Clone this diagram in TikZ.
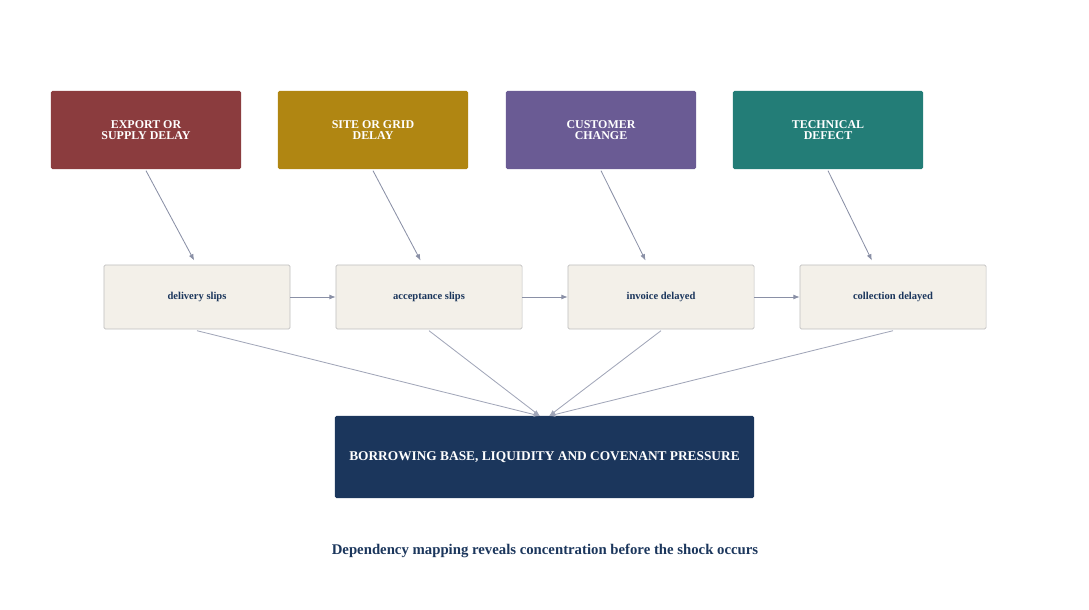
\documentclass[tikz,border=0pt]{standalone}
\usepackage{fontspec}
\setmainfont{Liberation Serif}
\usetikzlibrary{positioning,arrows.meta}
\definecolor{cred}{HTML}{8B3C3E}
\definecolor{cgold}{HTML}{B08612}
\definecolor{cpurple}{HTML}{6A5B94}
\definecolor{cteal}{HTML}{237D77}
\definecolor{cnavy}{HTML}{1B365C}
\definecolor{cstep}{HTML}{F3F0E9}
\definecolor{cline}{HTML}{8A90A6}
\begin{document}
\begin{tikzpicture}[x=0.025cm,y=-0.025cm,
        cause/.style={rectangle, rounded corners=1pt, minimum width=4.75cm, minimum height=1.95cm, text=white, font=\bfseries\fontsize{8.5}{8}\selectfont, align=center},
        stage/.style={rectangle, draw=gray!50, fill=cstep, rounded corners=1pt, minimum width=4.65cm, minimum height=1.6cm, text=cnavy, font=\bfseries\fontsize{7.5}{9}\selectfont},
        arrow/.style={-{Latex[length=4.5pt,width=3.5pt]}, draw=cline, semithick},
        feed/.style={-{Latex[length=4.5pt,width=3.5pt]}, draw=cline!80, semithick}
      ]
      \useasboundingbox (0,0) rectangle (1089,610);
      % Causes
      \node[cause, fill=cred] (export) at (146,130) {EXPORT OR\\SUPPLY DELAY};
      \node[cause, fill=cgold] (site) at (373,130) {SITE OR GRID\\DELAY};
      \node[cause, fill=cpurple] (customer) at (601,130) {CUSTOMER\\CHANGE};
      \node[cause, fill=cteal] (defect) at (828,130) {TECHNICAL\\DEFECT};

      % Chain
      \node[stage] (delivery) at (197,297) {delivery slips};
      \node[stage] (acceptance) at (429,297) {acceptance slips};
      \node[stage] (invoice) at (661,297) {invoice delayed};
      \node[stage] (collection) at (893,297) {collection delayed};

      % Result
      \node[rectangle, fill=cnavy, rounded corners=1pt, minimum width=10.475cm, minimum height=2.05cm, text=white, font=\bfseries\fontsize{9.5}{11}\selectfont] (pressure) at (544.5,457) {BORROWING BASE, LIQUIDITY AND COVENANT PRESSURE};
      \coordinate (inl) at (540,416);
      \coordinate (inr) at (549,416);

      \node[text=cnavy, font=\bfseries\fontsize{10.5}{12}\selectfont] (caption) at (545,551) {Dependency mapping reveals concentration before the shock occurs};

      % Connect everything
      \draw[arrow] ([yshift=-1pt]export.south) -- ([xshift=-2pt,yshift=3pt]delivery.north);
      \draw[arrow] ([yshift=-1pt]site.south) -- ([xshift=-6pt,yshift=3pt]acceptance.north);
      \draw[arrow] ([yshift=-1pt]customer.south) -- ([xshift=-11pt,yshift=3pt]invoice.north);
      \draw[arrow] ([yshift=-1pt]defect.south) -- ([xshift=-15pt,yshift=3pt]collection.north);

      \draw[arrow] (delivery) -- (acceptance);
      \draw[arrow] (acceptance) -- (invoice);
      \draw[arrow] (invoice) -- (collection);

      \draw[feed] ([yshift=-1pt]delivery.south) -- (inl);
      \draw[feed] ([yshift=-1pt]acceptance.south) -- (inl);
      \draw[feed] ([yshift=-1pt]invoice.south) -- (inr);
      \draw[feed] ([yshift=-1pt]collection.south) -- (inr);
    \end{tikzpicture}
\end{document}
